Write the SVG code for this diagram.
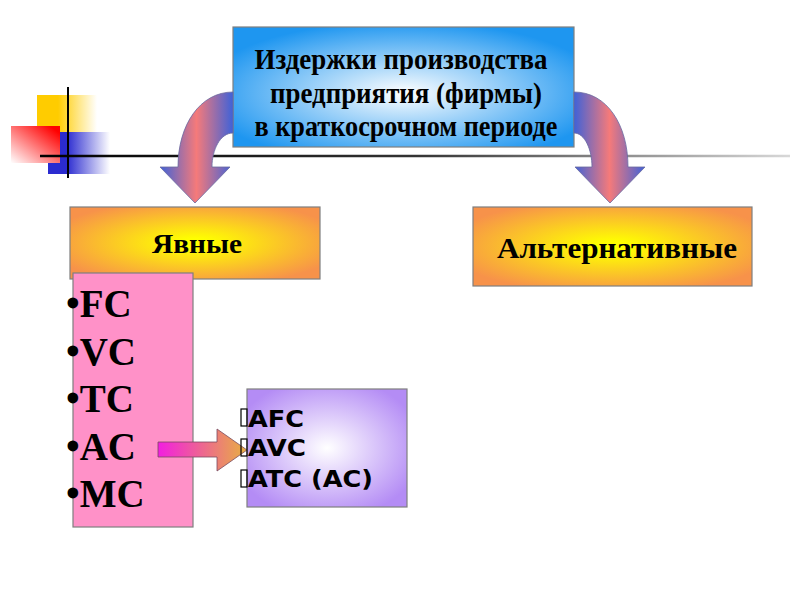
<svg xmlns="http://www.w3.org/2000/svg" width="800" height="600" viewBox="0 0 800 600">
<defs>
<linearGradient id="gY" x1="0" y1="0" x2="1" y2="0"><stop offset="0.35" stop-color="#ffcc00"/><stop offset="1" stop-color="#ffffff"/></linearGradient>
<linearGradient id="gB" x1="0" y1="0" x2="1" y2="0"><stop offset="0.3" stop-color="#2b2bd0"/><stop offset="1" stop-color="#ffffff"/></linearGradient>
<linearGradient id="gR" x1="1" y1="0" x2="0" y2="1"><stop offset="0.1" stop-color="#ff0000"/><stop offset="1" stop-color="#ffffff"/></linearGradient>
<linearGradient id="gLine" gradientUnits="userSpaceOnUse" x1="40" y1="0" x2="790" y2="0"><stop offset="0" stop-color="#000"/><stop offset="0.5" stop-color="#333"/><stop offset="1" stop-color="#d8d8d8"/></linearGradient>
<radialGradient id="gTop" cx="0.5" cy="0.55" r="0.6"><stop offset="0" stop-color="#ffffff"/><stop offset="1" stop-color="#1e96f0"/></radialGradient>
<radialGradient id="gOr" cx="0.5" cy="0.5" r="0.6"><stop offset="0.1" stop-color="#ffff00"/><stop offset="1" stop-color="#f7924a"/></radialGradient>
<radialGradient id="gPu" cx="0.5" cy="0.5" r="0.6"><stop offset="0" stop-color="#ffffff"/><stop offset="1" stop-color="#b48cf5"/></radialGradient>
<linearGradient id="gArc" x1="0" y1="0" x2="1" y2="0"><stop offset="0" stop-color="#3f62d8"/><stop offset="0.5" stop-color="#f57a7a"/><stop offset="1" stop-color="#3f62d8"/></linearGradient>
<linearGradient id="gSm" x1="0" y1="0" x2="1" y2="0"><stop offset="0" stop-color="#f21ee0"/><stop offset="1" stop-color="#e8b040"/></linearGradient>
</defs>
<style>
.box{stroke:#7f7f7f;stroke-width:1.2}
.ser{font-family:"Liberation Serif","DejaVu Serif",serif;font-weight:bold;fill:#000}
.ttl{font-size:30px;text-anchor:middle}
.lbl{text-anchor:middle}
.big{font-size:39px}
.san{font-family:"DejaVu Sans",Verdana,sans-serif;font-weight:bold;font-size:23px;fill:#000}
.tofu{fill:none;stroke:#000;stroke-width:1.2}
.arc{fill:url(#gArc);stroke:#6a6aa0;stroke-width:0.8}
</style>
<g id="decor">
<rect x="37" y="95" width="60" height="55" fill="url(#gY)"/>
<rect x="48" y="132" width="62" height="42" fill="url(#gB)"/>
<rect x="11" y="126" width="49" height="37" fill="url(#gR)"/>
<line x1="40" y1="156" x2="790" y2="156" stroke="url(#gLine)" stroke-width="2.5"/>
<line x1="68" y1="87" x2="68" y2="178" stroke="#000" stroke-width="2"/>
</g>
<g id="top">
<rect class="box" x="233" y="27" width="341" height="120" fill="url(#gTop)"/>
<text class="ser ttl" x="401" y="69" textLength="293" lengthAdjust="spacingAndGlyphs">Издержки производства</text>
<text class="ser ttl" x="406" y="103" textLength="272" lengthAdjust="spacingAndGlyphs">предприятия (фирмы)</text>
<text class="ser ttl" x="406" y="136" textLength="303" lengthAdjust="spacingAndGlyphs">в краткосрочном периоде</text>
</g>
<g id="yavnye">
<rect class="box" x="70" y="207" width="250" height="72" fill="url(#gOr)"/>
<text class="ser lbl" x="197" y="253" font-size="27" textLength="90" lengthAdjust="spacingAndGlyphs">Явные</text>
</g>
<g id="alt">
<rect class="box" x="473" y="207" width="279" height="79" fill="url(#gOr)"/>
<text class="ser lbl" x="617" y="258" font-size="30" textLength="240" lengthAdjust="spacingAndGlyphs">Альтернативные</text>
</g>
<g id="list">
<rect class="box" x="73" y="273" width="120" height="254" fill="#ff91c8"/>
<g class="ser big">
<text x="66" y="317">•FC</text>
<text x="66" y="365">•VC</text>
<text x="66" y="412">•TC</text>
<text x="66" y="460">•AC</text>
<text x="66" y="507">•MC</text>
</g>
</g>
<g id="avg">
<rect class="box" x="247" y="389" width="160" height="118" fill="url(#gPu)"/>
<text class="san" x="248" y="427" textLength="56" lengthAdjust="spacingAndGlyphs">AFC</text>
<text class="san" x="248" y="456" textLength="58" lengthAdjust="spacingAndGlyphs">AVC</text>
<text class="san" x="248" y="487" textLength="125" lengthAdjust="spacingAndGlyphs">ATC (AC)</text>
</g>
<g id="connectors">
<path class="arc" d="M233,92 C200,92 178,125 178,167 L160,167 L195,203 L230,167 L212,167 C212,150 220,133 233,133 Z"/>
<path class="arc" d="M574,92 C607,92 628,125 628,167 L645,167 L610,203 L575,167 L592,167 C592,150 585,133 574,133 Z"/>
<path d="M158,442 L217,442 L217,429 L247,450 L217,471 L217,457 L158,457 Z" fill="url(#gSm)" stroke="#7a4a60" stroke-width="0.8"/>
</g>
<g id="bullets">
<rect class="tofu" x="241" y="409" width="6" height="17"/>
<rect class="tofu" x="241" y="439" width="6" height="17"/>
<rect class="tofu" x="241" y="470" width="6" height="17"/>
</g>
</svg>
